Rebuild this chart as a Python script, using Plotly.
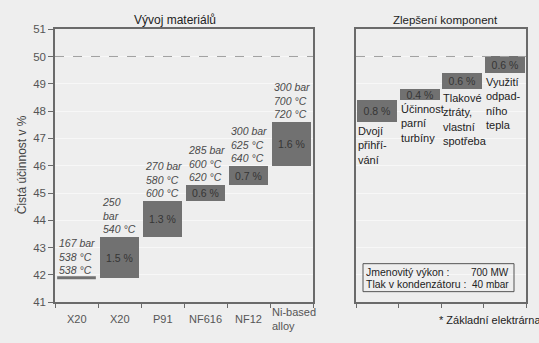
import plotly.graph_objects as go

# --- data -------------------------------------------------------------
materials = ["X20", "X20", "P91", "NF616", "NF12", "Ni-based<br>alloy"]
steam_params = [
    "167 bar<br>538 °C<br>538 °C",
    "250<br>bar<br>540 °C",
    "270 bar<br>580 °C<br>600 °C",
    "285 bar<br>600 °C<br>620 °C",
    "300 bar<br>625 °C<br>640 °C",
    "300 bar<br>700 °C<br>720 °C",
]
start_efficiency = 41.9
material_gain = [1.5, 1.3, 0.6, 0.7, 1.6]

components = [
    "Dvojí<br>přihří-<br>vání",
    "Účinnost<br>parní<br>turbíny",
    "Tlakové<br>ztráty,<br>vlastní<br>spotřeba",
    "Využití<br>odpad-<br>ního<br>tepla",
]
component_gain = [0.8, 0.4, 0.6, 0.6]

target_efficiency = 50
y_ticks = list(range(41, 52))
plant_info = [("Jmenovitý výkon :", "700 MW"), ("Tlak v kondenzátoru :", "40 mbar")]

# --- styling ----------------------------------------------------------
W, H = 539, 343
BG = "#eeeeee"
BAR = "#717171"
AXIS = "#6a6a6a"
FONT = "Liberation Sans, Arial, sans-serif"

def px(x):
    return x / W

def py(y):
    return (H - y) / H

# running totals for the two waterfalls
mat_base, mat_top = [], []
level = start_efficiency
for g in material_gain:
    mat_base.append(level)
    level = round(level + g, 2)
    mat_top.append(level)

comp_base, comp_top = [], []
for g in component_gain:
    comp_base.append(level)
    level = round(level + g, 2)
    comp_top.append(level)

fig = go.Figure()

# starting level of the reference plant drawn as a flat bar
fig.add_trace(go.Scatter(
    x=[0 - 0.45, 0 + 0.45], y=[start_efficiency, start_efficiency],
    mode="lines", line=dict(color=BAR, width=3),
    xaxis="x", yaxis="y", showlegend=False, hoverinfo="skip",
))

fig.add_trace(go.Bar(
    x=list(range(1, len(materials))), y=material_gain, base=mat_base,
    width=0.9, marker=dict(color=BAR, line=dict(width=0)),
    text=[f"{g} %" for g in material_gain], textposition="inside",
    insidetextanchor="middle", textangle=0,
    textfont=dict(size=10.5, color="#353535", family=FONT),
    xaxis="x", yaxis="y", showlegend=False,
))

fig.add_trace(go.Bar(
    x=list(range(len(components))), y=component_gain, base=comp_base,
    width=0.93, marker=dict(color=BAR, line=dict(width=0)),
    text=[f"{g} %" for g in component_gain], textposition="inside",
    insidetextanchor="middle", textangle=0,
    textfont=dict(size=10.5, color="#353535", family=FONT),
    xaxis="x2", yaxis="y2", showlegend=False,
))

y_dom = [py(307), py(24)]
axis_common = dict(
    showline=True, linecolor=AXIS, linewidth=1.5, mirror=True,
    zeroline=False,
)
fig.update_layout(
    width=W, height=H,
    margin=dict(l=0, r=0, t=0, b=0),
    paper_bgcolor=BG, plot_bgcolor=BG,
    bargap=0, barmode="overlay",
    uniformtext=dict(minsize=10.5, mode="show"),
    font=dict(family=FONT, color="#444"),
    xaxis=dict(
        domain=[px(55), px(313)], range=[-0.5, len(materials) - 0.5],
        showticklabels=False, ticks="", showgrid=False,
        minor=dict(ticks="outside", ticklen=4, tickcolor=AXIS, tick0=-0.5, dtick=1, showgrid=False),
        anchor="y", **axis_common,
    ),
    yaxis=dict(
        domain=y_dom, range=[41, 51], tickvals=y_ticks,
        ticks="outside", ticklen=5, tickcolor=AXIS,
        tickfont=dict(size=11.5, color="#555"),
        showgrid=True, gridcolor="#f7f7f7", gridwidth=1,
        anchor="x", **axis_common,
    ),
    xaxis2=dict(
        domain=[px(356), px(526)], range=[-0.5, len(components) - 0.5],
        showticklabels=False, ticks="", showgrid=False,
        minor=dict(ticks="outside", ticklen=4, tickcolor=AXIS, tick0=-0.5, dtick=1, showgrid=False),
        anchor="y2", **axis_common,
    ),
    yaxis2=dict(
        domain=y_dom, range=[41, 51], tickvals=y_ticks,
        showticklabels=False, ticks="",
        showgrid=True, gridcolor="#f7f7f7", gridwidth=1,
        anchor="x2", **axis_common,
    ),
)

# target efficiency line across both panels
for xr, yr in (("x domain", "y"), ("x2 domain", "y2")):
    fig.add_shape(type="line", xref=xr, yref=yr, x0=0, x1=1,
                  y0=target_efficiency, y1=target_efficiency,
                  line=dict(color="#a0a0a0", width=1, dash="dash"))

ann = []

def note(**kw):
    kw.setdefault("showarrow", False)
    kw.setdefault("xanchor", "center")
    kw.setdefault("yanchor", "middle")
    ann.append(kw)

# steam parameters above each material step
tops = [start_efficiency] + mat_top
for i, (label, top) in enumerate(zip(steam_params, tops)):
    note(x=i - 0.45, y=top, xref="x", yref="y", xanchor="left", yanchor="bottom",
         align="left", text=f"<i>{label}</i>",
         font=dict(size=10.5, color="#4a4a4a"))

# material names under the axis
for i, name in enumerate(materials):
    multi = "<br>" in name
    note(x=i - 0.5 if multi else i, y=py(324), xref="x", yref="paper",
         xanchor="left" if multi else "center", align="left",
         text=name, font=dict(size=11, color="#555"))

# component descriptions below each component step
for i, (name, base) in enumerate(zip(components, comp_base)):
    note(x=i - 0.5, y=base, xref="x2", yref="y2", xanchor="left", yanchor="top",
         align="left", text=name, xshift=0, yshift=-1,
         font=dict(size=11, color="#222"))

# panel titles
note(x=px(175), y=py(14), xref="paper", yref="paper", text="Vývoj materiálů",
     font=dict(size=12, color="#222"))
note(x=px(445), y=py(14), xref="paper", yref="paper", text="Zlepšení komponent",
     font=dict(size=11.5, color="#222"))

# y axis title
note(x=px(21), y=py(165), xref="paper", yref="paper", text="Čistá účinnost v %",
     textangle=-90, font=dict(size=12, color="#444"))

# plant parameters box
row_y = [276, 288.5]
for (k, v), yy in zip(plant_info, row_y):
    note(x=px(364), y=py(yy), xref="paper", yref="paper", xanchor="left",
         text=k, font=dict(size=10.5, color="#222"))
    note(x=px(511), y=py(yy), xref="paper", yref="paper", xanchor="right",
         text=v, font=dict(size=10, color="#222"))
fig.add_shape(type="rect", xref="paper", yref="paper",
              x0=px(363), x1=px(514), y0=py(296), y1=py(267),
              line=dict(color="#555", width=1))

note(x=px(437), y=py(325), xref="paper", yref="paper", xanchor="left",
     text="* Základní elektrárna", font=dict(size=11, color="#222"))

fig.update_layout(annotations=ann)
fig.write_html("out.html")
